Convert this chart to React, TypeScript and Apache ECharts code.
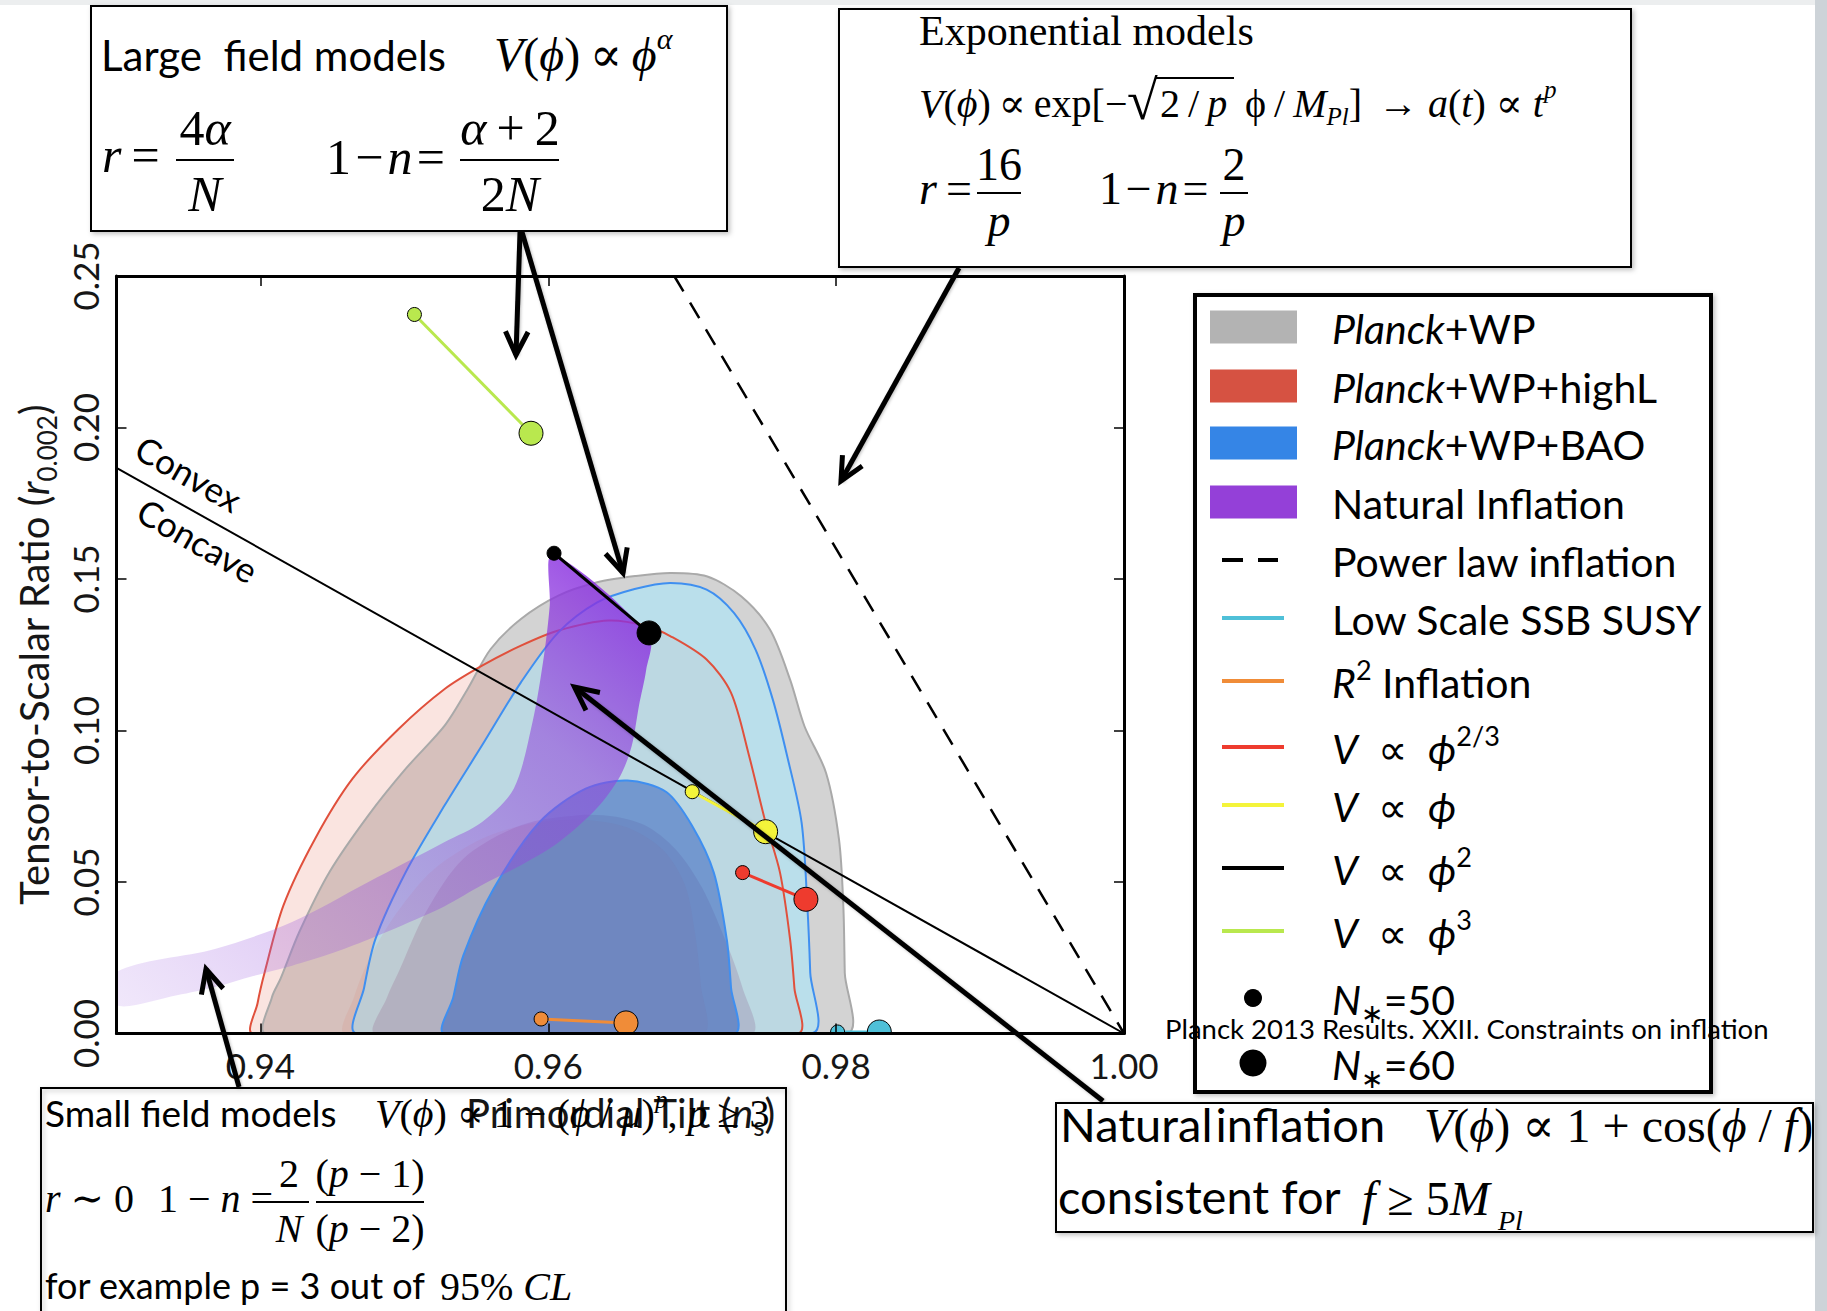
import React, { useEffect, useRef } from "react";
import * as echarts from "echarts";

type Pt = [number, number];

const SANS = "Lato, 'DejaVu Sans', sans-serif";
const SERIF = "'Liberation Serif', 'DejaVu Serif', serif";

// ---- axes -------------------------------------------------------------
const nsRange: Pt = [0.93, 1.0];
const rRange: Pt = [0, 0.25];
const nsTicks = [0.94, 0.96, 0.98, 1.0];
const rTicks = [0, 0.05, 0.1, 0.15, 0.2, 0.25];

// ---- Planck 2013 constraints in the (n_s, r) plane ---------------------
// Planck+WP, 95% and 68% regions
const planckWP95: Pt[] = [
  [0.9404, 0], [0.9408, 0.012], [0.9414, 0.0181], [0.9427, 0.0335], [0.9448, 0.0533],
  [0.9475, 0.072], [0.9501, 0.0874], [0.9528, 0.1016], [0.9544, 0.1137], [0.956, 0.1269],
  [0.9581, 0.1368], [0.9607, 0.1445], [0.9634, 0.1489], [0.9661, 0.151], [0.9685, 0.152],
  [0.971, 0.1509], [0.9734, 0.1443], [0.9754, 0.1333], [0.9768, 0.1168], [0.9778, 0.1014],
  [0.9793, 0.086], [0.9802, 0.064], [0.9805, 0.042], [0.9806, 0.02], [0.9807, 0],
];
const planckWP68: Pt[] = [
  [0.948, 0], [0.9488, 0.012], [0.9496, 0.0203], [0.9515, 0.0401], [0.9541, 0.0577],
  [0.9581, 0.0687], [0.9621, 0.072], [0.9647, 0.0715], [0.967, 0.068], [0.969, 0.06],
  [0.9707, 0.048], [0.9722, 0.032], [0.9735, 0.015], [0.9741, 0],
];
// Planck+WP+highL, 95% and 68% regions
const planckHighL95: Pt[] = [
  [0.9395, 0], [0.9398, 0.01], [0.9403, 0.0203], [0.9416, 0.0423], [0.9438, 0.0643],
  [0.9464, 0.0841], [0.9496, 0.1005], [0.9528, 0.1137], [0.9554, 0.1214], [0.9581, 0.128],
  [0.9607, 0.133], [0.9642, 0.1363], [0.9668, 0.1345], [0.9685, 0.1311], [0.971, 0.1234],
  [0.9727, 0.1124], [0.9739, 0.0926], [0.9751, 0.0696], [0.9761, 0.0531], [0.9768, 0.0311],
  [0.9771, 0.015], [0.9773, 0],
];
const planckHighL68: Pt[] = [
  [0.9459, 0], [0.9465, 0.012], [0.9476, 0.025], [0.9495, 0.04], [0.952, 0.054],
  [0.9555, 0.0645], [0.959, 0.0695], [0.9625, 0.0705], [0.9655, 0.068], [0.968, 0.0605],
  [0.9695, 0.049], [0.9702, 0.033], [0.9706, 0.016], [0.9707, 0],
];
// Planck+WP+BAO, 95% and 68% regions
const planckBAO95: Pt[] = [
  [0.9467, 0], [0.9472, 0.015], [0.948, 0.0313], [0.9501, 0.0533], [0.9528, 0.0753],
  [0.9554, 0.0951], [0.9581, 0.1159], [0.9607, 0.1324], [0.9634, 0.1423], [0.966, 0.1467],
  [0.9685, 0.1487], [0.971, 0.1465], [0.9729, 0.1388], [0.9744, 0.1267], [0.9756, 0.1102],
  [0.9766, 0.0915], [0.9776, 0.0696], [0.978, 0.0421], [0.9782, 0.02], [0.9783, 0],
];
const planckBAO68: Pt[] = [
  [0.9528, 0], [0.9534, 0.012], [0.9541, 0.0258], [0.9562, 0.0478], [0.9594, 0.0698],
  [0.9626, 0.0808], [0.9655, 0.0835], [0.9682, 0.0797], [0.97, 0.0685], [0.9715, 0.0531],
  [0.9724, 0.0311], [0.9727, 0.015], [0.9729, 0],
];

// ---- natural inflation band (N* = 50..60) -----------------------------
const naturalUpper: Pt[] = [
  [0.93, 0.0203], [0.9369, 0.028], [0.9422, 0.0368], [0.9475, 0.05], [0.9528, 0.0632],
  [0.9554, 0.0698], [0.9576, 0.0808], [0.9589, 0.1027], [0.9597, 0.1247], [0.9601, 0.1412],
  [0.9603, 0.158],
];
const naturalLower: Pt[] = [
  [0.967, 0.1313], [0.9668, 0.12], [0.9663, 0.1082], [0.9658, 0.095], [0.965, 0.085],
  [0.9634, 0.0745], [0.9607, 0.063], [0.9581, 0.0555], [0.9554, 0.049], [0.9528, 0.042],
  [0.9501, 0.0362], [0.9475, 0.031], [0.9448, 0.0262], [0.9422, 0.0224], [0.9395, 0.019],
  [0.9369, 0.0154], [0.9342, 0.0126], [0.93, 0.0093],
];

// ---- single-field model predictions, [N*=50, N*=60] --------------------
const phi3Track: Pt[] = [[0.9507, 0.2373], [0.9588, 0.1981]];
const phi2Track: Pt[] = [[0.9604, 0.1585], [0.967, 0.1322]];
const phi1Track: Pt[] = [[0.97, 0.0798], [0.9751, 0.0666]];
const phi23Track: Pt[] = [[0.9735, 0.0531], [0.9779, 0.0443]];
const r2Track: Pt[] = [[0.9595, 0.0048], [0.9654, 0.0035]];
const susyTrack: Pt[] = [[0.9801, 0.0005], [0.983, 0.0005]];

// r = 8(1 - n_s)/3 separates convex from concave potentials
const convexBoundary: Pt[] = [[0.93, 0.18667], [1.0, 0]];
// r = 8(1 - n_s): power-law inflation
const powerLaw: Pt[] = [[0.96875, 0.25], [1.0, 0]];

// ---- colours ----------------------------------------------------------
const C = {
  gray: "#b3b3b3",
  red: "#d65242",
  blue: "#3585e6",
  purple: "#9440d8",
  cyan: "#4fc0d8",
  orange: "#f08c38",
  red23: "#ee3b2e",
  yellow: "#f4f43a",
  green: "#b9e84e",
};

// ---- helpers ----------------------------------------------------------
const mathRich = (fs: number) => ({
  i: { fontFamily: SERIF, fontStyle: "italic", fontSize: fs, lineHeight: Math.round(fs * 1.3) },
  sup: { fontFamily: SERIF, fontStyle: "italic", fontSize: Math.round(fs * 0.62), lineHeight: Math.round(fs * 0.8), verticalAlign: "top" },
  sub: { fontFamily: SERIF, fontStyle: "italic", fontSize: Math.round(fs * 0.62), lineHeight: Math.round(fs * 0.66), verticalAlign: "bottom" },
});

const sansRich = (fs: number) => ({
  it: { fontFamily: SANS, fontStyle: "italic", fontSize: fs, lineHeight: Math.round(fs * 1.3) },
  sup: { fontFamily: SANS, fontSize: Math.round(fs * 0.65), lineHeight: Math.round(fs * 0.8), verticalAlign: "top" },
  sub: { fontFamily: SANS, fontSize: Math.round(fs * 0.65), lineHeight: Math.round(fs * 0.7), verticalAlign: "bottom" },
});

type TOpts = { fs: number; family?: string; italic?: boolean; align?: string; rich?: any; rotation?: number; fill?: string };

function textEl(x: number, y: number, text: string, o: TOpts) {
  const align = o.align || "left";
  return {
    type: "text",
    x,
    y,
    z: 120,
    rotation: o.rotation || 0,
    silent: true,
    style: {
      text,
      fill: o.fill || "#000",
      fontSize: o.fs,
      fontFamily: o.family || SANS,
      fontStyle: o.italic ? "italic" : "normal",
      lineHeight: Math.round(o.fs * 1.3),
      align,
      verticalAlign: "middle",
      textAlign: align,
      textVerticalAlign: "middle",
      rich: o.rich,
    },
  };
}

const mathText = (x: number, y: number, text: string, fs: number, align = "left") =>
  textEl(x, y, text, { fs, family: SERIF, align, rich: mathRich(fs) });

function lineEl(x1: number, y1: number, x2: number, y2: number, stroke: string, lw: number, z = 120) {
  return {
    type: "line",
    z,
    silent: true,
    shape: { x1, y1, x2, y2 },
    style: { stroke, lineWidth: lw },
  };
}

function boxEl(x: number, y: number, w: number, h: number, lw: number, fill: string | null, z = 110) {
  return {
    type: "rect",
    z,
    silent: true,
    shape: { x, y, width: w, height: h },
    style: {
      fill: fill || "none",
      stroke: "#000",
      lineWidth: lw,
      shadowBlur: 5,
      shadowOffsetX: 2,
      shadowOffsetY: 2,
      shadowColor: "rgba(0,0,0,0.25)",
    },
  };
}

function fracEls(cx: number, barY: number, x1: number, x2: number, num: string, den: string, numY: number, denY: number, fs: number) {
  return [mathText(cx, numY, num, fs, "center"), lineEl(x1, barY, x2, barY, "#000", 2), mathText(cx, denY, den, fs, "center")];
}

function arrowEls(x1: number, y1: number, x2: number, y2: number) {
  const ang = Math.atan2(y2 - y1, x2 - x1);
  const L = 26;
  const a = 0.45;
  const p1 = [x2 - L * Math.cos(ang - a), y2 - L * Math.sin(ang - a)];
  const p2 = [x2 - L * Math.cos(ang + a), y2 - L * Math.sin(ang + a)];
  return [
    {
      type: "line",
      z: 130,
      silent: true,
      shape: { x1, y1, x2, y2 },
      style: { stroke: "#000", lineWidth: 5, shadowBlur: 3, shadowColor: "rgba(0,0,0,0.25)", shadowOffsetX: 1, shadowOffsetY: 1 },
    },
    {
      type: "polyline",
      z: 130,
      silent: true,
      shape: { points: [p1, [x2, y2], p2] },
      style: { stroke: "#000", lineWidth: 5, fill: null, lineJoin: "miter" },
    },
  ];
}

// closed region drawn through the cartesian coordinate system
function regionSeries(pts: Pt[], style: any, z: number) {
  return {
    type: "custom",
    z,
    silent: true,
    clip: true,
    data: pts,
    renderItem: (params: any, api: any) => {
      if (params.dataIndex !== 0) return null;
      return {
        type: "polygon",
        shape: { points: pts.map((p) => api.coord(p)), smooth: 0.3 },
        style,
      };
    },
  };
}

// N*=50 (small) to N*=60 (large) prediction segment
function trackSeries(pts: Pt[], color: string, z: number) {
  return {
    type: "custom",
    z,
    silent: true,
    clip: true,
    data: pts,
    renderItem: (params: any, api: any) => {
      if (params.dataIndex !== 0) return null;
      const a = api.coord(pts[0]);
      const b = api.coord(pts[1]);
      return {
        type: "group",
        children: [
          { type: "line", shape: { x1: a[0], y1: a[1], x2: b[0], y2: b[1] }, style: { stroke: color, lineWidth: 3 } },
          { type: "circle", shape: { cx: a[0], cy: a[1], r: 7 }, style: { fill: color, stroke: "#000", lineWidth: 1 } },
          { type: "circle", shape: { cx: b[0], cy: b[1], r: 12 }, style: { fill: color, stroke: "#000", lineWidth: 1 } },
        ],
      };
    },
  };
}

const HS = "\u200a"; // hair space
const TS = "\u2009"; // thin space

function buildGraphic() {
  const G: any[] = [];

  // slide edges
  G.push({ type: "rect", z: 1, silent: true, shape: { x: 0, y: 0, width: 1827, height: 5 }, style: { fill: "#eceeef" } });
  G.push({ type: "rect", z: 1, silent: true, shape: { x: 1815, y: 0, width: 12, height: 1311 }, style: { fill: "#cdd3d8" } });

  // Convex / Concave labels along r = 8(1-n_s)/3
  G.push(textEl(189, 473, "Convex", { fs: 35, align: "center", rotation: -0.52 }));
  G.push(textEl(198, 540, "Concave", { fs: 35, align: "center", rotation: -0.52 }));

  // --- large field models box ---
  G.push(boxEl(91, 6, 636, 225, 2, "#fff"));
  G.push(textEl(101, 55, "Large\u00a0 field models", { fs: 42 }));
  G.push(mathText(494, 54, `{i|V}({i|\u03d5})${TS}\u221d${TS}{i|\u03d5}{sup|\u03b1}`, 48));
  G.push(mathText(102, 155, `{i|r}${TS}=`, 50));
  G.push(...fracEls(205, 160, 176, 234, "4{i|\u03b1}", "{i|N}", 128, 194, 50));
  G.push(mathText(326, 157, `1${HS}\u2212${HS}{i|n}${HS}=`, 50));
  G.push(...fracEls(510, 160, 460, 559, `{i|\u03b1}${TS}+${TS}2`, "2{i|N}", 128, 194, 50));

  // --- exponential models box ---
  G.push(boxEl(839, 9, 792, 258, 2, "#fff"));
  G.push(textEl(919, 31, "Exponential models", { fs: 42, family: SERIF }));
  G.push(mathText(919, 103, `{i|V}({i|\u03d5})${TS}\u221d${TS}exp[\u2212`, 40));
  G.push(textEl(1127, 100, "\u221a", { fs: 56, family: SERIF }));
  G.push(lineEl(1155, 78, 1234, 78, "#000", 2));
  G.push(mathText(1160, 103, `2${TS}/${TS}{i|p}`, 40));
  G.push(mathText(1245, 103, `\u03d5${TS}/${TS}{i|M}{sub|Pl}]`, 40));
  G.push(mathText(1378, 103, "\u2192 {i|a}({i|t}) \u221d {i|t}{sup|p}", 40));
  G.push(mathText(919, 188, `{i|r}${TS}=`, 46));
  G.push(...fracEls(999, 193, 977, 1021, "16", "{i|p}", 164, 220, 46));
  G.push(mathText(1099, 188, `1${HS}\u2212${HS}{i|n}${HS}=`, 46));
  G.push(...fracEls(1234, 193, 1220, 1248, "2", "{i|p}", 164, 220, 46));

  // --- small field models box (open, runs off the bottom) ---
  G.push(boxEl(41, 1088, 745, 260, 2, null));
  G.push(textEl(45, 1112, "Small field models", { fs: 37 }));
  G.push(mathText(375, 1113, "{i|V}({i|\u03d5}) \u221d 1 \u2212 ({i|\u03d5} / {i|\u03bc}){sup|p}, {i|p} \u2265 3", 40));
  G.push(mathText(45, 1198, "{i|r} \u223c 0", 40));
  G.push(mathText(158, 1198, "1 \u2212 {i|n} =", 40));
  G.push(...fracEls(289, 1202, 270, 309, "2", "{i|N}", 1173, 1228, 40));
  G.push(...fracEls(370, 1202, 316, 424, "({i|p} \u2212 1)", "({i|p} \u2212 2)", 1173, 1228, 40));
  G.push(textEl(45, 1285, "for example p = 3 out of", { fs: 36 }));
  G.push(mathText(440, 1286, "95% {i|CL}", 40));

  // --- natural inflation box ---
  G.push(boxEl(1056, 1103, 757, 129, 2, "#fff"));
  G.push(textEl(1060, 1124, `Natural${HS}inflation`, { fs: 47 }));
  G.push(mathText(1424, 1125, "{i|V}({i|\u03d5}) \u221d 1 + cos({i|\u03d5} / {i|f})", 48));
  G.push(textEl(1058, 1196, "consistent for", { fs: 47 }));
  G.push(mathText(1362, 1198, "{i|f} \u2265 5{i|M}", 48));
  G.push(textEl(1498, 1220, "Pl", { fs: 28, family: SERIF, italic: true }));

  // --- legend ---
  G.push(boxEl(1195, 295, 516, 797, 4, "#fff", 105));
  const legendRows: { y: number; kind: string; color: string; label: string }[] = [
    { y: 327, kind: "patch", color: C.gray, label: "{it|Planck}+WP" },
    { y: 386, kind: "patch", color: C.red, label: "{it|Planck}+WP+highL" },
    { y: 443, kind: "patch", color: C.blue, label: "{it|Planck}+WP+BAO" },
    { y: 502, kind: "patch", color: C.purple, label: "Natural Inflation" },
    { y: 560, kind: "dash", color: "#000", label: "Power law inflation" },
    { y: 618, kind: "line", color: C.cyan, label: "Low Scale SSB SUSY" },
    { y: 681, kind: "line", color: C.orange, label: "{it|R}{sup|2} Inflation" },
    { y: 747, kind: "line", color: C.red23, label: "{it|V}\u2002\u221d\u2002{it|\u03d5}{sup|2/3}" },
    { y: 805, kind: "line", color: C.yellow, label: "{it|V}\u2002\u221d\u2002{it|\u03d5}" },
    { y: 868, kind: "line", color: "#000", label: "{it|V}\u2002\u221d\u2002{it|\u03d5}{sup|2}" },
    { y: 931, kind: "line", color: C.green, label: "{it|V}\u2002\u221d\u2002{it|\u03d5}{sup|3}" },
    { y: 998, kind: "dotS", color: "#000", label: "{it|N}{sub|\u2217}=50" },
    { y: 1063, kind: "dotL", color: "#000", label: "{it|N}{sub|\u2217}=60" },
  ];
  legendRows.forEach((row) => {
    if (row.kind === "patch") {
      G.push({ type: "rect", z: 115, silent: true, shape: { x: 1210, y: row.y - 16.5, width: 87, height: 33 }, style: { fill: row.color } });
    } else if (row.kind === "dash") {
      G.push(lineEl(1222, row.y, 1243, row.y, "#000", 4, 115));
      G.push(lineEl(1258, row.y, 1278, row.y, "#000", 4, 115));
    } else if (row.kind === "line") {
      G.push(lineEl(1222, row.y, 1284, row.y, row.color, 4, 115));
    } else {
      G.push({ type: "circle", z: 115, silent: true, shape: { cx: 1253, cy: row.y, r: row.kind === "dotS" ? 9 : 13.5 }, style: { fill: "#000" } });
    }
    G.push(textEl(1332, row.y + 1, row.label, { fs: 41, rich: sansRich(41) }));
  });

  G.push(textEl(1165, 1028, "Planck 2013 Results. XXII. Constraints on inflation", { fs: 27.5 }));

  // --- arrows from the annotations into the plane ---
  G.push(...arrowEls(520, 232, 516, 355));
  G.push(...arrowEls(522, 232, 623, 573));
  G.push(...arrowEls(959, 268, 841, 481));
  G.push(...arrowEls(1103, 1101, 574.5, 687));
  G.push(...arrowEls(239, 1087, 206, 969));

  return G;
}

function buildOption() {
  const fmt = (v: number) => v.toFixed(2);
  const axisLineStyle = { show: true, onZero: false, lineStyle: { color: "#000", width: 3 } };
  const tickStyle = { color: "#000", width: 1.5 };
  const labelStyle = { fontSize: 35, fontFamily: SANS, color: "#161616" };

  const nameRich = {
    it: { fontFamily: SANS, fontStyle: "italic", fontSize: 40, lineHeight: 52, color: "#161616" },
    sub: { fontFamily: SANS, fontSize: 26, lineHeight: 28, verticalAlign: "bottom", color: "#161616" },
  };
  const nameStyle = { fontSize: 40, fontFamily: SANS, color: "#161616", lineHeight: 52, rich: nameRich };

  const outlines = { fill: "none", lineWidth: 2 };

  return {
    animation: false,
    backgroundColor: "#ffffff",
    textStyle: { fontFamily: SANS },
    grid: { left: 116.5, right: 703, top: 276, bottom: 277.5, containLabel: false, outerBoundsMode: "none" },
    xAxis: [
      {
        type: "value",
        min: nsRange[0],
        max: nsRange[1],
        position: "bottom",
        z: 10,
        axisLine: axisLineStyle,
        axisTick: { show: true, inside: true, length: 10, customValues: nsTicks, lineStyle: tickStyle },
        axisLabel: { show: true, customValues: nsTicks, formatter: fmt, margin: 14, ...labelStyle },
        splitLine: { show: false },
        name: "Primordial Tilt ({it|n}{sub|s})",
        nameLocation: "middle",
        nameGap: 53,
        nameTextStyle: nameStyle,
      },
      {
        type: "value",
        min: nsRange[0],
        max: nsRange[1],
        position: "top",
        z: 10,
        axisLine: axisLineStyle,
        axisTick: { show: true, inside: true, length: 10, customValues: nsTicks, lineStyle: tickStyle },
        axisLabel: { show: false },
        splitLine: { show: false },
      },
    ],
    yAxis: [
      {
        type: "value",
        min: rRange[0],
        max: rRange[1],
        interval: 0.05,
        position: "left",
        z: 10,
        axisLine: axisLineStyle,
        axisTick: { show: true, inside: true, length: 10, customValues: rTicks, lineStyle: tickStyle },
        axisLabel: { show: true, customValues: rTicks, formatter: fmt, rotate: 90, margin: 14, ...labelStyle },
        splitLine: { show: false },
        name: "Tensor-to-Scalar Ratio ({it|r}{sub|0.002})",
        nameLocation: "middle",
        nameRotate: 90,
        nameGap: 57,
        nameTextStyle: nameStyle,
      },
      {
        type: "value",
        min: rRange[0],
        max: rRange[1],
        interval: 0.05,
        position: "right",
        z: 10,
        axisLine: axisLineStyle,
        axisTick: { show: true, inside: true, length: 10, customValues: rTicks, lineStyle: tickStyle },
        axisLabel: { show: false },
        splitLine: { show: false },
      },
    ],
    series: [
      // filled confidence regions
      regionSeries(planckWP95, { fill: "rgba(175,175,175,0.55)" }, 2),
      regionSeries(planckHighL95, { fill: "rgba(230,120,100,0.2)" }, 2),
      regionSeries(planckBAO95, { fill: "rgba(170,231,252,0.6)" }, 2),
      regionSeries(planckWP68, { fill: "rgba(160,150,180,0.45)" }, 2),
      regionSeries(planckHighL68, { fill: "rgba(215,100,80,0.1)" }, 2),
      regionSeries(planckBAO68, { fill: "rgba(54,101,191,0.55)" }, 2),
      // contour outlines
      regionSeries(planckWP95, { ...outlines, stroke: "#a9a9a9" }, 3),
      regionSeries(planckHighL95, { ...outlines, stroke: "#e0503c" }, 3),
      regionSeries(planckBAO95, { ...outlines, stroke: "#3f8ff0" }, 3),
      regionSeries(planckBAO68, { ...outlines, stroke: "#3f8ff0" }, 3),
      // natural inflation
      regionSeries(
        [...naturalUpper, ...naturalLower],
        {
          fill: new echarts.graphic.LinearGradient(1, 0, 0, 1, [
            { offset: 0, color: "rgba(135,40,225,0.92)" },
            { offset: 0.3, color: "rgba(145,70,220,0.58)" },
            { offset: 0.6, color: "rgba(150,80,220,0.38)" },
            { offset: 1, color: "rgba(165,110,228,0.16)" },
          ]),
        },
        4
      ),
      {
        type: "line",
        data: convexBoundary,
        showSymbol: false,
        silent: true,
        z: 5,
        lineStyle: { color: "#000", width: 2 },
      },
      {
        type: "line",
        data: powerLaw,
        showSymbol: false,
        silent: true,
        z: 5,
        lineStyle: { color: "#000", width: 2.5, type: [18, 13] },
      },
      trackSeries(phi3Track, C.green, 6),
      trackSeries(phi2Track, "#000", 6),
      trackSeries(phi1Track, C.yellow, 6),
      trackSeries(phi23Track, C.red23, 6),
      trackSeries(r2Track, C.orange, 6),
      trackSeries(susyTrack, C.cyan, 6),
    ],
    graphic: { elements: buildGraphic() },
  };
}

export default function App() {
  const ref = useRef<HTMLDivElement>(null);
  useEffect(() => {
    if (!ref.current) return;
    const chart = echarts.init(ref.current, null, { renderer: "svg" });
    chart.setOption(buildOption() as any);
    return () => chart.dispose();
  }, []);
  return <div ref={ref} style={{ position: "absolute", left: 0, top: 0, width: 1827, height: 1311 }} />;
}
